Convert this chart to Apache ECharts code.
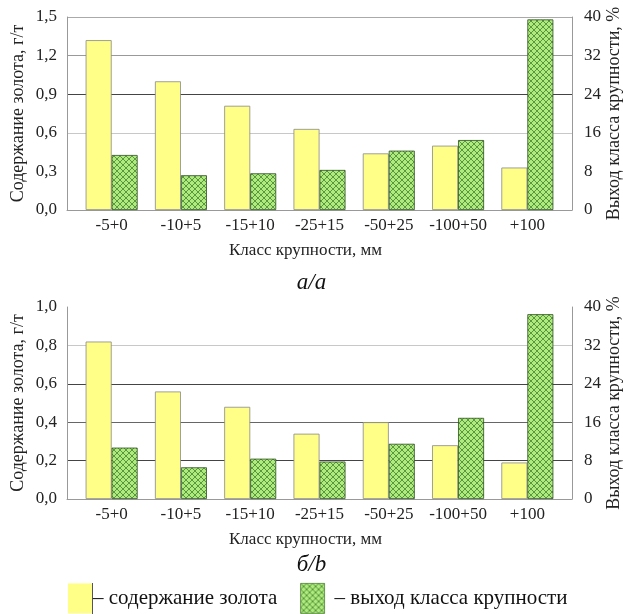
<!DOCTYPE html>
<html><head><meta charset="utf-8">
<script src="https://cdn.jsdelivr.net/npm/echarts@6/dist/echarts.min.js"></script>
<style>html,body{margin:0;padding:0;background:#fff}#c{width:623px;height:614px}</style>
</head><body><div id="c"></div>
<script>
const categories = ['-5+0','-10+5','-15+10','-25+15','-50+25','-100+50','+100'];
const goldA = [1.32, 1.00, 0.81, 0.63, 0.44, 0.50, 0.33];
const yieldA = [11.4, 7.2, 7.6, 8.3, 12.3, 14.5, 39.5];
const goldB = [0.82, 0.56, 0.48, 0.34, 0.40, 0.28, 0.19];
const yieldB = [10.7, 6.6, 8.4, 7.8, 11.5, 16.9, 38.5];
const leftTicksA = [0, 0.3, 0.6, 0.9, 1.2, 1.5];
const leftTicksB = [0, 0.2, 0.4, 0.6, 0.8, 1.0];
const rightTicks = [0, 8, 16, 24, 32, 40];
const goldName = '– содержание золота';
const yieldName = '– выход класса крупности';
const leftName = 'Содержание золота, г/т';
const rightName = 'Выход класса крупности, %';
const xName = 'Класс крупности, мм';
const captions = ['а/а', 'б/b'];

function hatch() {
  const c = document.createElement('canvas');
  c.width = 6; c.height = 6;
  const g = c.getContext('2d');
  g.fillStyle = '#aeea7e'; g.fillRect(0,0,6,6);
  g.strokeStyle = '#4f8f34'; g.lineWidth = 0.9;
  g.beginPath(); g.moveTo(0,0); g.lineTo(6,6); g.moveTo(6,0); g.lineTo(0,6); g.stroke();
  return c;
}
const hatchFill = {image: hatch(), repeat: 'repeat'};
const yellow = '#ffff88';
const FONT = 'Liberation Serif';
const txt = '#222';

const chart = echarts.init(document.getElementById('c'), null, {renderer: 'canvas'});

function panel(top, height, leftTicks, gold, yld, gi) {
  const lmax = leftTicks[leftTicks.length - 1];
  const lint = leftTicks[1];
  const rmax = rightTicks[rightTicks.length - 1];
  const rint = rightTicks[1];
  const fmt = v => v.toFixed(1).replace('.', ',');
  const gridLines = gi === 0
    ? ['#999', 'transparent', '#c8c8c8', '#444', '#999', '#aaa']
    : ['#999', '#444', '#666', '#444', '#c8c8c8', 'transparent'];
  return {
    grids: [
      {left: 67, right: 51, top: top, height: height, outerBoundsMode: 'none', containLabel: false},
      {left: 77, right: 61, top: top, height: height, outerBoundsMode: 'none', containLabel: false}
    ],
    xAxes: [
      {gridIndex: gi*2, type: 'value', min: 0, max: 1, axisLine: {show: true, onZero: false, lineStyle: {color: '#999'}},
       axisTick: {show: false}, axisLabel: {show: false}, splitLine: {show: false}},
      {gridIndex: gi*2+1, type: 'category', data: categories, axisLine: {show: false}, axisTick: {show: false},
       axisLabel: {fontFamily: FONT, fontSize: 17, color: txt, margin: 7, interval: 0},
       name: xName, nameLocation: 'middle', nameGap: 32, nameMoveOverlap: false,
       nameTextStyle: {fontFamily: FONT, fontSize: 17, color: txt, padding: [0, 28, 0, 0]}}
    ],
    yAxes: [
      {gridIndex: gi*2, type: 'value', min: 0, max: lmax, interval: lint, position: 'left',
       axisLine: {show: true, lineStyle: {color: '#999'}}, axisTick: {show: false},
       axisLabel: {fontFamily: FONT, fontSize: 17, color: txt, margin: 10, formatter: fmt},
       splitLine: {show: true, lineStyle: {color: gridLines, width: 1}},
       name: leftName, nameLocation: 'middle', nameGap: 40, nameRotate: 90, nameMoveOverlap: false,
       nameTextStyle: {fontFamily: FONT, fontSize: 18, color: txt}},
      {gridIndex: gi*2, type: 'value', min: 0, max: rmax, interval: rint, position: 'right',
       axisLine: {show: true, lineStyle: {color: '#999'}}, axisTick: {show: false},
       axisLabel: {fontFamily: FONT, fontSize: 17, color: txt, margin: 12},
       splitLine: {show: false},
       name: rightName, nameLocation: 'middle', nameGap: 33, nameRotate: 90, nameMoveOverlap: false,
       nameTextStyle: {fontFamily: FONT, fontSize: 18, color: txt}},
      {gridIndex: gi*2+1, type: 'value', min: 0, max: lmax, show: false},
      {gridIndex: gi*2+1, type: 'value', min: 0, max: rmax, show: false}
    ],
    series: [
      {type: 'bar', name: goldName, xAxisIndex: gi*2+1, yAxisIndex: gi*4+2, data: gold,
       barWidth: '37.5%', barGap: '0%',
       itemStyle: {color: yellow, borderColor: '#888', borderWidth: 0.8}},
      {type: 'bar', name: yieldName, xAxisIndex: gi*2+1, yAxisIndex: gi*4+3, data: yld,
       barWidth: '37.5%', barGap: '0%',
       itemStyle: {color: hatchFill, borderColor: '#2f4f22', borderWidth: 0.8}}
    ]
  };
}

const pA = panel(17, 193, leftTicksA, goldA, yieldA, 0);
const pB = panel(307, 192, leftTicksB, goldB, yieldB, 1);

chart.setOption({
  animation: false,
  backgroundColor: '#fff',
  grid: pA.grids.concat(pB.grids),
  xAxis: pA.xAxes.concat(pB.xAxes),
  yAxis: pA.yAxes.concat(pB.yAxes),
  series: pA.series.concat(pB.series),
  legend: {
    left: 68, top: 583, padding: 0, itemWidth: 24, itemHeight: 30, itemGap: 23,
    icon: 'rect', selectedMode: false,
    textStyle: {fontFamily: FONT, fontSize: 21, color: '#111'},
    data: [
      {name: goldName, itemStyle: {borderWidth: 0}, textStyle: {padding: [0, 0, 0, -4]}},
      {name: yieldName, itemStyle: {borderWidth: 0.8, borderColor: '#4f7f34'}, textStyle: {padding: [0, 0, 0, 5]}}
    ]
  },
  graphic: [
    {type: 'text', left: 'center', top: 271, style: {text: captions[0], font: 'italic 23px "Liberation Serif"', fill: '#111'}},
    {type: 'text', left: 'center', top: 553, style: {text: captions[1], font: 'italic 23px "Liberation Serif"', fill: '#111'}},
    {type: 'line', shape: {x1: 92.5, y1: 583, x2: 92.5, y2: 614}, style: {stroke: '#555', lineWidth: 1}}
  ]
});
</script></body></html>
